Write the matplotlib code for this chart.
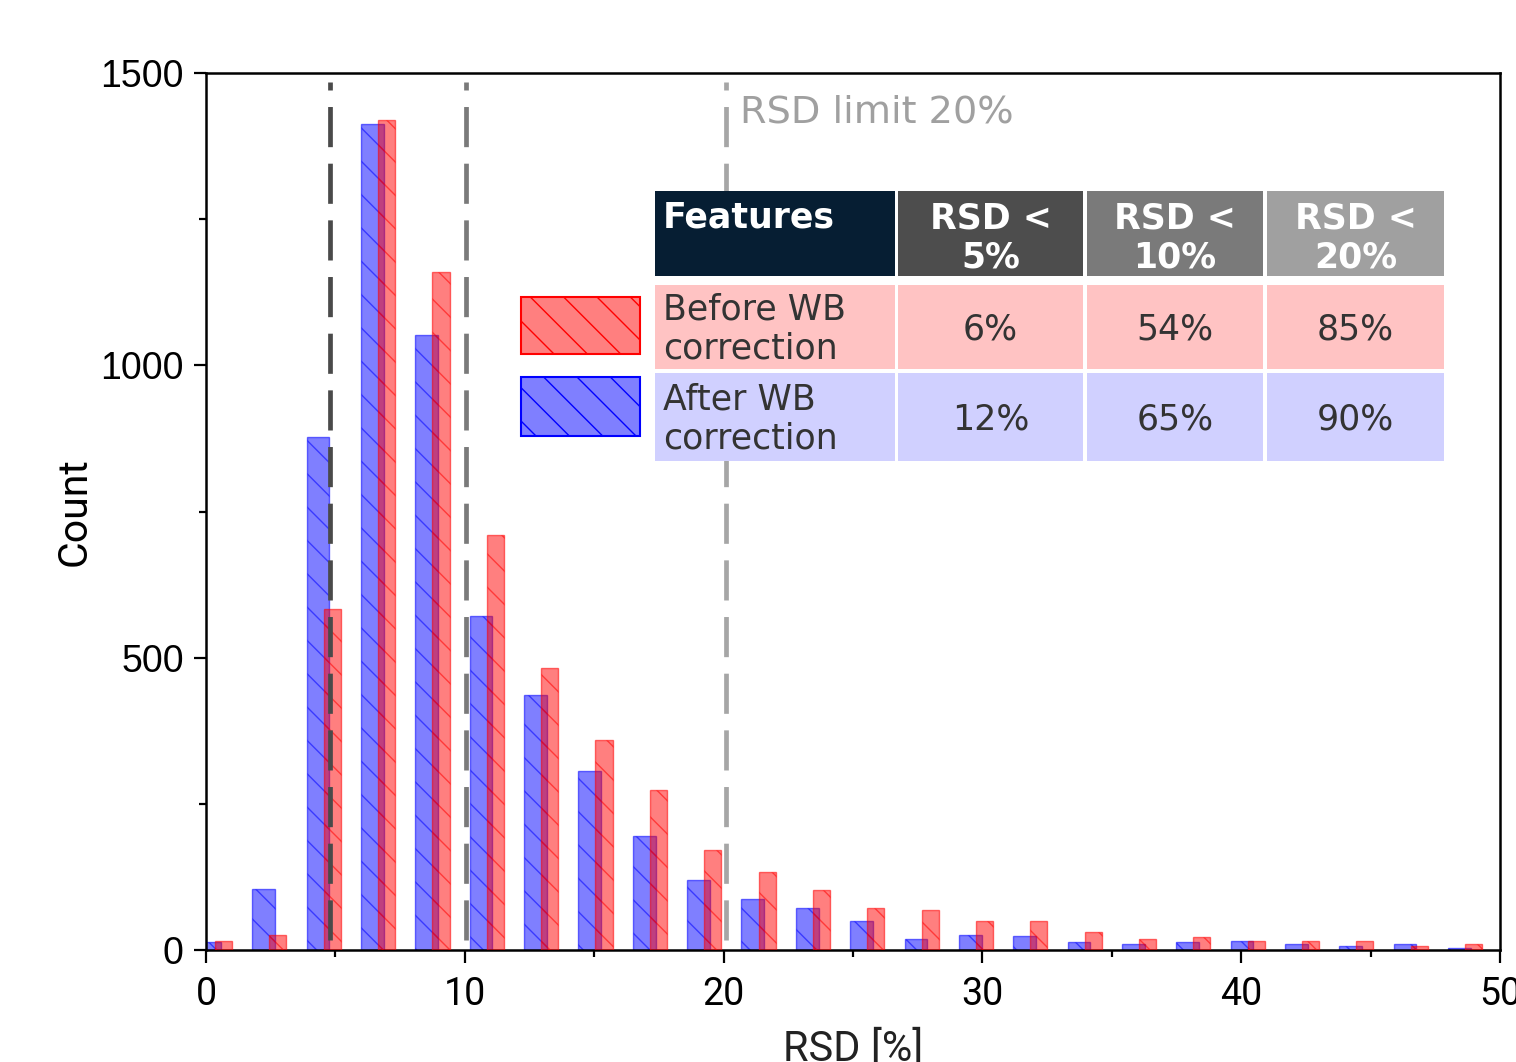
import matplotlib
matplotlib.use('Agg')
import matplotlib.pyplot as plt
from matplotlib.patches import Rectangle

# histogram of feature RSD, before / after WB correction
rsd_bins = [0.0, 2.1, 4.2, 6.3, 8.4, 10.5, 12.6, 14.7, 16.8, 18.9, 21.0, 23.1,
            25.2, 27.3, 29.4, 31.5, 33.6, 35.7, 37.8, 39.9, 42.0, 44.1, 46.2, 48.3]
count_before = [15, 25, 583, 1420, 1160, 709, 482, 359, 274, 171, 134, 103,
                71, 68, 49, 49, 30, 18, 22, 16, 15, 16, 6, 11]
count_after = [13, 105, 877, 1413, 1052, 571, 436, 306, 195, 120, 88, 71,
               50, 19, 26, 24, 14, 11, 14, 16, 10, 6, 11, 3]

# RSD cut-offs (dashed lines)
rsd_limits = [4.8, 10.05, 20.1]
limit_colors = ['#4a4a4a', '#7a7a7a', '#a6a6a6']

# summary table
table_header = ['Features', 'RSD <\n5%', 'RSD <\n10%', 'RSD <\n20%']
row_labels = ['Before WB\ncorrection', 'After WB\ncorrection']
pct_before = ['6%', '54%', '85%']
pct_after = ['12%', '65%', '90%']

W, H = 1516, 1062
plt.rcParams['hatch.linewidth'] = 1.0
fig = plt.figure(figsize=(W / 100, H / 100), dpi=100)
ax = fig.add_axes([206 / W, 1 - 950 / H, 1294 / W, 877 / H])

red_face = (1, 0, 0, 0.5)
red_edge = (1, 0, 0, 0.55)
blue_face = (0, 0, 1, 0.5)
blue_edge = (0, 0, 1, 0.55)

ax.bar([b - 0.31 for b in rsd_bins], count_after, width=0.88, align='edge',
       facecolor=blue_face, edgecolor=blue_edge, hatch='\\', linewidth=1.0, zorder=2)
ax.bar([b + 0.35 for b in rsd_bins], count_before, width=0.66, align='edge',
       facecolor=red_face, edgecolor=red_edge, hatch='\\', linewidth=1.0, zorder=3)

for lim, c in zip(rsd_limits, limit_colors):
    ax.axvline(lim, ymin=0.011, ymax=0.99, color=c, lw=3.4,
               linestyle=(0, (8.5, 3.5)), zorder=4)

ax.text(20.65, 1432, 'RSD limit 20%', color='#a0a0a0', fontsize=27.5,
        family='DejaVu Sans', va='center', ha='left')

ax.set_xlim(0, 50)
ax.set_ylim(0, 1500)
ax.set_xticks([0, 10, 20, 30, 40, 50])
ax.set_xticks([5, 15, 25, 35, 45], minor=True)
ax.set_yticks([0, 500, 1000, 1500])
ax.set_yticks([250, 750, 1250], minor=True)
ax.tick_params(which='major', direction='out', length=9, width=1.6)
ax.tick_params(which='minor', direction='out', length=5, width=1.6)
ax.tick_params(axis='x', which='major', pad=10, labelsize=27)
ax.tick_params(axis='y', which='major', pad=7, labelsize=27)
for lab in ax.get_xticklabels():
    lab.set_family('Roboto')
for lab in ax.get_yticklabels():
    lab.set_family('Liberation Sans')
for sp in ax.spines.values():
    sp.set_linewidth(1.8)

ax.set_xlabel('RSD [%]', fontsize=30, family='Roboto', color='#222222', labelpad=11)
ax.set_ylabel('Count', fontsize=29.5, family='Roboto', labelpad=5)


def box(x0, y0, x1, y1, fc, ec='none', lw=0, hatch=None):
    r = Rectangle((x0 / W, 1 - y1 / H), (x1 - x0) / W, (y1 - y0) / H,
                  transform=fig.transFigure, facecolor=fc, edgecolor=ec,
                  linewidth=lw, hatch=hatch, zorder=5)
    fig.add_artist(r)


def label(x, y, s, **kw):
    fig.text(x / W, 1 - y / H, s, family='DejaVu Sans', fontsize=25, zorder=6, **kw)


# table cells
col_x = [(655, 895), (898, 1083), (1087, 1263), (1267, 1444)]
head_colors = ['#061e33', '#4d4d4d', '#7a7a7a', '#a0a0a0']
rows_y = [(285, 369), (373, 461)]
row_colors = ['#ffc3c3', '#d0d0ff']

box(655, 191, 1444, 461, 'white')
for (x0, x1), c, txt in zip(col_x, head_colors, table_header):
    box(x0, 191, x1, 276, c)
    if txt == 'Features':
        label(x0 + 8, 217, txt, color='white', weight='bold', va='center', ha='left')
    else:
        label((x0 + x1) / 2, 238, txt, color='white', weight='bold', va='center',
              ha='center', multialignment='center')

for (y0, y1), c, name, vals in zip(rows_y, row_colors, row_labels, [pct_before, pct_after]):
    for x0, x1 in col_x:
        box(x0, y0, x1, y1, c)
    label(col_x[0][0] + 8, (y0 + y1) / 2 + 2, name, color='#333333', va='center', ha='left')
    for (x0, x1), v in zip(col_x[1:], vals):
        label((x0 + x1) / 2, (y0 + y1) / 2 + 2, v, color='#333333', va='center', ha='center')

# legend swatches
box(521, 297, 640, 354, red_face, ec='red', lw=1.5, hatch='\\')
box(521, 377, 640, 436, blue_face, ec='blue', lw=1.5, hatch='\\')

fig.savefig('out.png', dpi=100)
